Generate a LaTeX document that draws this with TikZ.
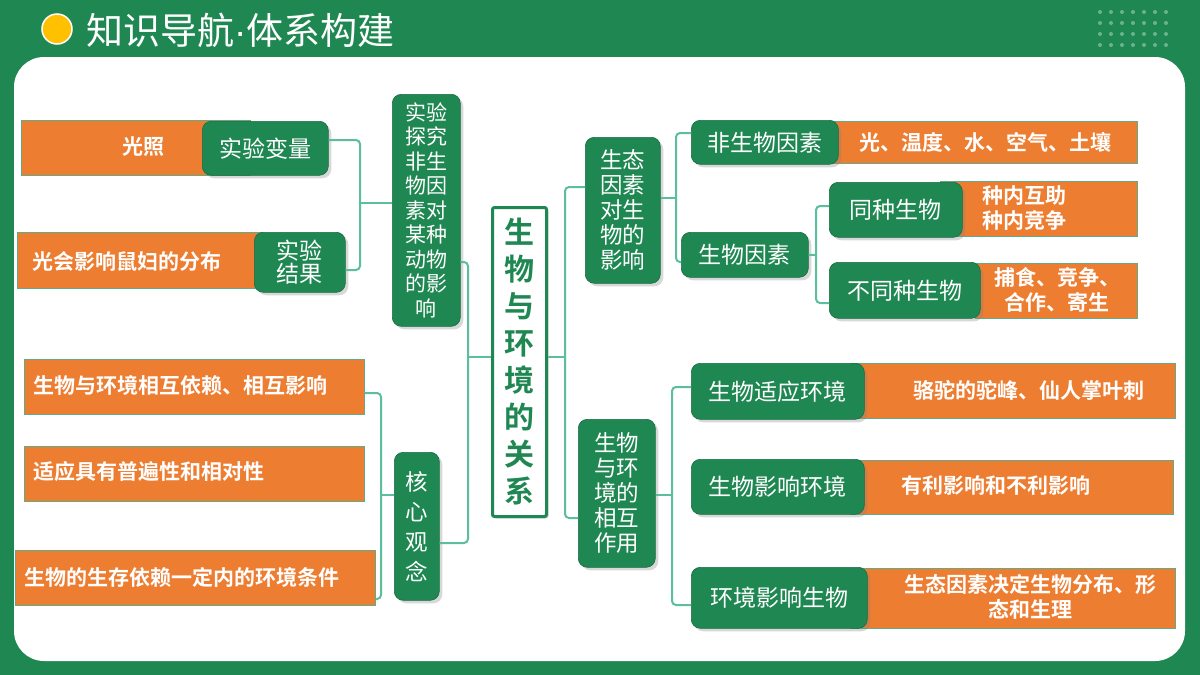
\documentclass[tikz,border=0pt]{standalone}
\usepackage{fontspec}
\setmainfont{Noto Sans CJK SC}[BoldFont={Noto Sans CJK SC Bold}]
\newfontfamily\latf{Liberation Sans}
\usetikzlibrary{shadows}
\definecolor{gr}{HTML}{1F8752}
\definecolor{og}{HTML}{ED7D31}
\definecolor{ln}{HTML}{5CBF9B}
\definecolor{yl}{HTML}{FFC000}
\tikzset{
 gbox/.style={fill=gr,draw=gr!80!black,line width=0.6pt,rounded corners=9pt,text=white,font=\fontsize{23}{27}\selectfont,inner sep=0pt,align=center,drop shadow={opacity=0.3,shadow xshift=3pt,shadow yshift=-3pt}},
 vbox/.style={gbox,font=\fontsize{22.5}{26}\selectfont},
 ebox/.style={gbox,font=\fontsize{21}{24.5}\selectfont},
 obox/.style={fill=og,draw=gr!70,line width=0.8pt,inner sep=0pt},
 otxt/.style={text=white,font=\bfseries\fontsize{21}{25}\selectfont,align=center,inner sep=0pt},
 conn/.style={draw=ln,line width=2pt,rounded corners=4pt},
}
\newcommand{\bx}[7]{\node[#1,anchor=north west,minimum width=#4-#2,minimum height=#5-#3] (#6) at (#2,#3) {#7};}
\begin{document}
\begin{tikzpicture}[x=1pt,y=-1pt]
\useasboundingbox (0,0) rectangle (1200,675);
\fill[gr] (0,0) rectangle (1200,675);
\fill[white,rounded corners=30pt] (14,57) rectangle (1185,661);
% title
\node[circle,fill=yl,draw=white,line width=1.5pt,minimum size=30pt,inner sep=0pt] (dot) at (57,29) {};
\node[anchor=west,text=white,font=\fontsize{37}{40}\selectfont,inner sep=0pt] (title) at (86,30) {知识导航{\latf ·}体系构建};
\foreach \i in {0,...,6}{\foreach \j in {0,...,3}{
 \fill[white,opacity=0.35] (1100+\i*11,12+\j*11) circle (2pt);}}
% left top
\bx{obox}{21}{120}{250}{175}{o1}{}
\node[otxt] (t1) at (143,147) {光照};
\bx{gbox}{202}{121}{328}{175}{g1}{实验变量}
\bx{obox}{17}{232}{262}{288}{o2}{}
\node[otxt] (t2) at (127,261) {光会影响鼠妇的分布};
\bx{gbox}{254}{232}{345}{292}{g2}{实验\\[-4pt]结果}
\bx{ebox}{392}{94}{460}{326}{exp}{实验\\探究\\非生\\物因\\素对\\某种\\动物\\的影\\响}
\draw[conn] (g1.east|-0,140) -- (360,140) -- (360,270) -- (g2.east|-0,270);
\draw[conn] (360,203) -- (exp.west|-0,203);
% left bottom
\bx{obox}{24}{359}{364}{414}{o3}{}
\node[otxt,anchor=west] (t3) at (33,385) {生物与环境相互依赖、相互影响};
\bx{obox}{24}{446}{364}{501}{o4}{}
\node[otxt,anchor=west] (t4) at (33,471) {适应具有普遍性和相对性};
\bx{obox}{15}{550}{375}{605}{o5}{}
\node[otxt,anchor=west] (t5) at (24,577) {生物的生存依赖一定内的环境条件};
\bx{vbox}{394}{452}{439}{600}{core}{核\\[4pt]心\\[4pt]观\\[4pt]念}
\draw[conn] (o3.east|-0,393) -- (381,393) -- (381,599) -- (o5.east|-0,599);
\draw[conn] (381,495) -- (core.west|-0,495);
% center
\node[draw=gr,line width=3pt,fill=white,rounded corners=2pt,anchor=north west,minimum width=54pt,minimum height=309pt,inner sep=0pt,text=gr,font=\bfseries\fontsize{30}{37}\selectfont,align=center,drop shadow={opacity=0.3,shadow xshift=2pt,shadow yshift=-2pt}] (main) at (491,206) {生\\物\\与\\环\\境\\的\\关\\系};
\draw[conn] (exp.east|-0,262) -- (468,262) -- (468,543) -- (core.east|-0,543);
\draw[conn] (468,357) -- (main.west|-0,357);
% right top
\bx{vbox}{585}{137}{660}{283}{eco}{生态\\[-1pt]因素\\[-1pt]对生\\[-1pt]物的\\[-1pt]影响}
\bx{vbox}{578}{419}{655}{567}{inter}{生物\\[-1pt]与环\\[-1pt]境的\\[-1pt]相互\\[-1pt]作用}
\draw[conn] (eco.west|-0,187) -- (565,187) -- (565,518) -- (inter.west|-0,518);
\draw[conn] (main.east|-0,357) -- (565,357);
\bx{obox}{830}{121}{1137}{163}{o6}{}
\node[otxt] (t6) at (985,142) {光、温度、水、空气、土壤};
\bx{gbox}{691}{120}{838}{164}{g6}{非生物因素}
\bx{gbox}{681}{232}{808}{277}{g7}{生物因素}
\draw[conn] (eco.east|-0,198) -- (676,198);
\draw[conn] (g6.west|-0,133) -- (676,133) -- (676,262) -- (g7.west|-0,262);
\bx{obox}{940}{181}{1137}{236}{o8}{}
\node[otxt,align=left] (t8) at (1024,208) {种内互助\\种内竞争};
\bx{gbox}{829}{182}{962}{237}{g8}{同种生物}
\bx{obox}{975}{263}{1137}{318}{o9}{}
\node[otxt] (t9) at (1057,290) {捕食、竞争、\\合作、寄生};
\bx{gbox}{829}{262}{980}{318}{g9}{不同种生物}
\draw[conn] (g7.east) -- (816,255);
\draw[conn] (g8.west|-0,206) -- (816,206) -- (816,303) -- (g9.west|-0,303);
% right bottom
\bx{obox}{850}{363}{1175}{418}{o10}{}
\node[otxt] (t10) at (1029,390) {骆驼的驼峰、仙人掌叶刺};
\bx{gbox}{691}{363}{864}{419}{g10}{生物适应环境}
\bx{obox}{850}{460}{1173}{514}{o11}{}
\node[otxt] (t11) at (996,486) {有利影响和不利影响};
\bx{gbox}{691}{459}{864}{514}{g11}{生物影响环境}
\bx{obox}{850}{568}{1175}{628}{o12}{}
\node[otxt] (t12) at (1030,597) {生态因素决定生物分布、形\\态和生理};
\bx{gbox}{691}{567}{867}{628}{g12}{环境影响生物}
\draw[conn] (g10.west|-0,387) -- (672,387) -- (672,605) -- (g12.west|-0,605);
\draw[conn] (inter.east|-0,495) -- (672,495);
\end{tikzpicture}
\end{document}
